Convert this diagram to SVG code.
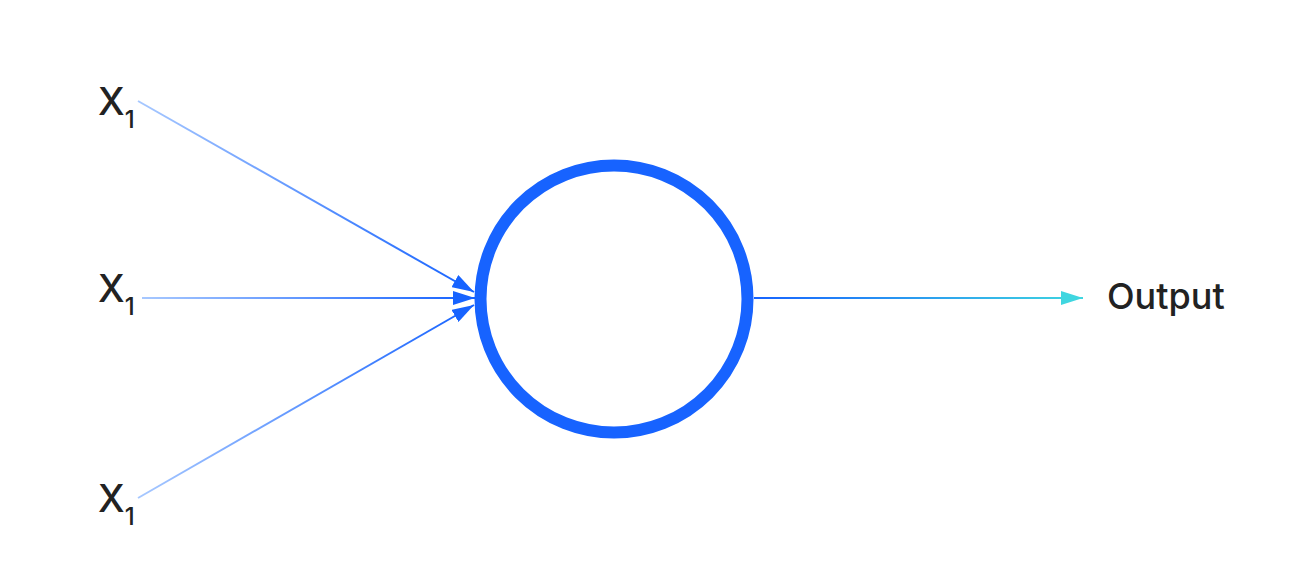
<svg xmlns="http://www.w3.org/2000/svg" width="1310" height="580" viewBox="0 0 1310 580">
<style>
.lbl{font-family:Inter,"Noto Sans","Liberation Sans",sans-serif;fill:#222;font-weight:500;}
.x{font-size:38px;}
.sub{font-size:24px;}
.out{font-size:36px;}
.conn{fill:none;stroke-width:2;}
</style>
<defs>
<linearGradient id="g1" gradientUnits="userSpaceOnUse" x1="138" y1="101" x2="470" y2="290"><stop offset="0" stop-color="#a7c8ff"/><stop offset="1" stop-color="#1763ff"/></linearGradient>
<linearGradient id="g2" gradientUnits="userSpaceOnUse" x1="142" y1="298" x2="470" y2="298"><stop offset="0" stop-color="#a7c8ff"/><stop offset="1" stop-color="#1763ff"/></linearGradient>
<linearGradient id="g3" gradientUnits="userSpaceOnUse" x1="138" y1="498" x2="470" y2="307"><stop offset="0" stop-color="#a7c8ff"/><stop offset="1" stop-color="#1763ff"/></linearGradient>
<linearGradient id="g4" gradientUnits="userSpaceOnUse" x1="754" y1="298" x2="1082" y2="298"><stop offset="0" stop-color="#1763ff"/><stop offset="1" stop-color="#3fd6e0"/></linearGradient>
<marker id="ab" viewBox="0 0 22 14" refX="22" refY="7" markerWidth="22" markerHeight="14" markerUnits="userSpaceOnUse" orient="auto"><path d="M0,0 L22,7 L0,14 Z" fill="#1763ff"/></marker>
<marker id="ac" viewBox="0 0 22 14" refX="22" refY="7" markerWidth="22" markerHeight="14" markerUnits="userSpaceOnUse" orient="auto"><path d="M0,0 L22,7 L0,14 Z" fill="#3fd6e0"/></marker>
</defs>
<g id="connectors">
<line class="conn" x1="138" y1="101" x2="474" y2="292" stroke="url(#g1)" marker-end="url(#ab)"/>
<line class="conn" x1="142" y1="298" x2="475" y2="298" stroke="url(#g2)" marker-end="url(#ab)"/>
<line class="conn" x1="138" y1="498" x2="474" y2="305" stroke="url(#g3)" marker-end="url(#ab)"/>
<line class="conn" x1="754" y1="298" x2="1083" y2="298" stroke="url(#g4)" marker-end="url(#ac)"/>
</g>
<g id="neuron">
<circle cx="614" cy="299" r="133.5" fill="#fff" stroke="#1763ff" stroke-width="12"/>
</g>
<g id="x1-top"><text class="lbl x" x="98" y="115">X<tspan class="sub" dy="13">1</tspan></text></g>
<g id="x1-mid"><text class="lbl x" x="98" y="302">X<tspan class="sub" dy="13">1</tspan></text></g>
<g id="x1-bot"><text class="lbl x" x="98" y="512">X<tspan class="sub" dy="13">1</tspan></text></g>
<g id="output"><text class="lbl out" x="1107" y="309">Output</text></g>
</svg>
